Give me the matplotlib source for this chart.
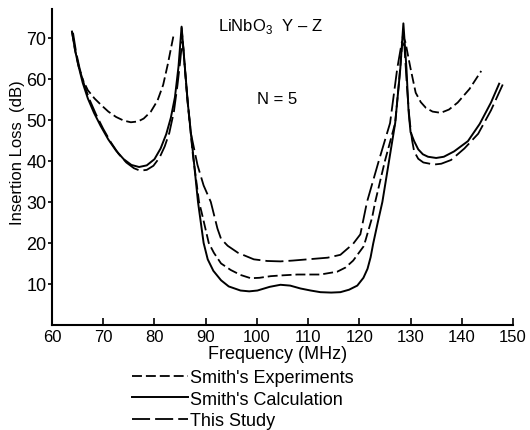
import matplotlib as mpl
mpl.use("Agg")
import matplotlib.pyplot as plt
import numpy as np

plt.rcParams['font.family'] = ['Liberation Sans', 'DejaVu Sans']
plt.rcParams['mathtext.fontset'] = 'custom'
plt.rcParams['mathtext.rm'] = 'Liberation Sans'

nan = np.nan

# Smith's Calculation (solid)
calc_f = [63.9, 64.5, 65.1, 66.0, 67.0, 68.2, 69.5, 71.0, 72.5, 74.0, 75.5, 77.0, 78.5, 80.0,
          81.2, 82.3, 83.2, 84.0, 84.7, 85.3,
          86.5, 87.7, 88.5, 89.6, 90.4, 91.5, 93.0, 94.5, 96.8, 98.5, 100.1, 102.5, 104.6, 106.5,
          108.5, 110.5, 112.4, 114.5, 116.3, 118.0, 119.6, 120.8, 121.6, 122.2, 122.7, 123.6, 124.5,
          125.8, 127.0, 128.0, 128.6, 129.2, 129.6, 130.0, 130.7, 131.5, 132.4, 133.4, 135.0, 136.5,
          138.5, 141.2, 143.5, 145.7, 147.3]
calc_db = [71.5, 67.0, 63.5, 59.0, 55.2, 51.7, 48.5, 45.2, 42.5, 40.4, 39.0, 38.5, 38.9, 40.4,
           43.0, 46.5, 50.5, 55.5, 63.0, 72.7,
           54.2, 39.8, 30.0, 20.0, 16.0, 13.2, 10.9, 9.4, 8.4, 8.2, 8.4, 9.3, 9.8, 9.6,
           8.9, 8.4, 8.0, 7.9, 8.0, 8.6, 9.6, 11.5, 13.7, 16.5, 19.8, 25.0, 30.0,
           40.0, 49.2, 62.5, 73.5, 62.5, 52.3, 47.0, 44.8, 42.8, 41.6, 41.0, 40.7, 41.0,
           42.3, 44.8, 49.0, 54.2, 58.8]

# Smith's Experiments (short dash)
exp_f = [63.9, 64.5, 65.2, 66.0, 67.0, 68.3, 69.6, 71.0, 72.5, 74.0, 75.4, 76.8, 77.9, 79.3,
         80.6, 81.7, 82.6, 83.8, nan,
         85.3, 86.5, 87.5, 88.7, 89.2, 90.6, 91.6, 93.0, 94.9, 96.8, 98.8, 100.5, 102.7, 105.0,
         107.9, 110.0, 112.4, 115.7, 117.3, 118.8, 120.8, 121.2, 122.5, 123.1, 125.0, 127.0, 127.8,
         128.5, 129.0, 130.0, 131.0, 132.0, 133.0, 134.3, 135.9, 137.5, 139.2, 141.5, 143.8]
exp_db = [71.5, 67.0, 63.0, 59.8, 57.2, 55.2, 53.6, 52.0, 50.7, 49.8, 49.4, 49.6, 50.3, 52.0,
          54.7, 58.5, 63.5, 71.0, nan,
          72.5, 54.0, 41.5, 30.0, 27.5, 20.0, 17.6, 15.0, 13.4, 12.2, 11.4, 11.5, 11.9, 12.1,
          12.3, 12.3, 12.3, 13.0, 14.0, 15.7, 19.1, 20.6, 26.2, 30.0, 40.0, 49.2, 60.0,
          70.5, 68.9, 62.5, 56.6, 54.3, 52.9, 52.0, 51.7, 52.5, 54.2, 57.5, 61.9]

# This Study (long dash)
study_f = [64.1, 64.7, 65.4, 66.3, 67.3, 68.6, 70.0, 71.5, 73.0, 74.5, 76.0, 77.2, 78.5, 79.8,
           81.0, 82.0, 82.9, 83.8, 84.5, 85.0, 85.4,
           85.6, 86.3, 87.1, 88.4, 89.6, 91.0, 92.3, 93.0, 94.3, 96.3, 99.4, 102.0, 104.6, 107.0,
           109.9, 113.8, 116.3, 118.8, 120.2, 121.5, 123.8, 126.0, 127.4, 128.3,
           128.8, 129.3, 129.8, 130.3, 130.7, 131.5, 132.5, 134.6, 136.0, 137.9, 140.5, 143.2,
           145.7, 148.0]
study_db = [71.2, 66.5, 62.5, 58.5, 55.0, 51.3, 47.8, 44.5, 41.7, 39.6, 38.2, 37.6, 37.8, 38.8,
            40.8, 43.5, 46.8, 52.0, 58.5, 64.0, 69.0,
            68.0, 57.0, 46.8, 39.0, 34.0, 30.0, 23.5, 21.0, 19.3, 17.6, 16.0, 15.6, 15.5, 15.7,
            16.0, 16.4, 17.1, 19.8, 22.1, 30.0, 40.0, 49.2, 62.5, 69.0,
            68.0, 58.0, 50.0, 45.0, 42.3, 40.5, 39.6, 39.1, 39.3, 40.2, 43.0, 46.6,
            52.3, 58.6]

x_ticks = [60, 70, 80, 90, 100, 110, 120, 130, 140, 150]
y_ticks = [10, 20, 30, 40, 50, 60, 70]

fig = plt.figure(figsize=(5.3, 4.31), dpi=100)
ax = fig.add_axes([52 / 530, 105 / 431, 461 / 530, 316 / 431])

l_exp, = ax.plot(exp_f, exp_db, color='black', lw=1.3, dashes=(5.5, 2.2),
                 label="Smith's Experiments")
l_calc, = ax.plot(calc_f, calc_db, color='black', lw=1.4, label="Smith's Calculation")
l_study, = ax.plot(study_f, study_db, color='black', lw=1.3, dashes=(10, 2.8),
                   label='This Study')

ax.set_xlim(60, 150)
ax.set_ylim(0, 77)
ax.set_xticks(x_ticks)
ax.set_yticks(y_ticks)
ax.tick_params(axis='x', direction='in', length=5, width=1.2, labelsize=12, pad=3)
ax.tick_params(axis='y', direction='out', length=3, width=1.2, labelsize=13, pad=1)
for s in ['top', 'right']:
    ax.spines[s].set_visible(False)
for s in ['left', 'bottom']:
    ax.spines[s].set_linewidth(1.5)

fig.text(18 / 530, 1 - 153 / 431, 'Insertion Loss  (dB)', rotation=90,
         ha='center', va='center', fontsize=12)
fig.text(278 / 530, 1 - 355 / 431, 'Frequency (MHz)', ha='center', va='center', fontsize=13)
fig.text(270 / 530, 1 - 27 / 431, r'LiNbO$_\mathregular{3}$  Y – Z', ha='center',
         va='center', fontsize=12)
fig.text(277 / 530, 1 - 100 / 431, 'N = 5', ha='center', va='center', fontsize=12)

fig.legend(handles=[l_exp, l_calc, l_study], loc='upper left',
           bbox_to_anchor=(132 / 530, 1 - 370 / 431), frameon=False, fontsize=13,
           handlelength=3.1, handletextpad=0.1, labelspacing=0.26, borderpad=0,
           borderaxespad=0)

fig.savefig('out.png', dpi=100)
plt.close(fig)
